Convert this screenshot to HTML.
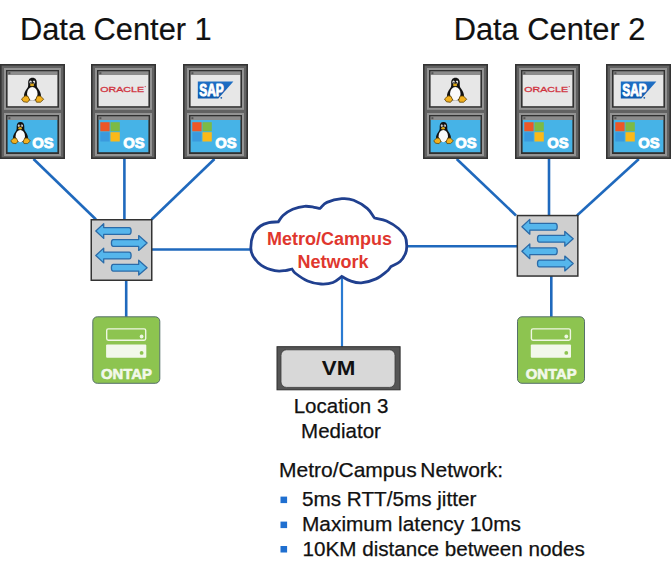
<!DOCTYPE html>
<html><head><meta charset="utf-8">
<style>
html,body{margin:0;padding:0;background:#fff;width:671px;height:573px;overflow:hidden}
svg{position:absolute;left:0;top:0;display:block}
text{font-family:"Liberation Sans",sans-serif}
</style></head><body>
<svg width="671" height="573" viewBox="0 0 671 573">
<defs>
  <linearGradient id="sapg" x1="0" y1="0" x2="0" y2="1"><stop offset="0" stop-color="#1f70c6"/><stop offset="1" stop-color="#0f5bae"/></linearGradient>
  <g id="box">
    <rect x="0" y="0" width="65" height="95" fill="#333"/>
    <rect x="1.6" y="1.6" width="61.8" height="91.8" fill="#626262"/>
    <rect x="4" y="4" width="57" height="41.8" fill="#939393"/>
    <rect x="6" y="6" width="53" height="37.7" fill="#303030"/>
    <rect x="7.4" y="7.3" width="50.2" height="3.7" fill="#8c8c8c"/>
    <rect x="8.4" y="8.2" width="2" height="2" fill="#555"/>
    <rect x="7.6" y="11" width="49.8" height="31.2" fill="#e7e7e7"/>
    <rect x="4" y="49" width="57" height="43" fill="#939393"/>
    <rect x="6" y="51" width="53" height="39" fill="#303030"/>
    <rect x="7.4" y="52.3" width="50.2" height="3.7" fill="#8c8c8c"/>
    <rect x="8.4" y="53.2" width="2" height="2" fill="#555"/>
    <rect x="7.6" y="56" width="49.8" height="32.2" fill="#46b3e7"/>
  </g>
  <g id="tux">
    <path d="M11.5 0.3 C8.5 0.3 7.2 2.5 7.2 5.5 C7.2 8 7.5 9 6 11 C4 13.5 2.8 16 3 19.5 L5 22.8 L18 22.8 L20 19.5 C20.2 16 19 13.5 17 11 C15.5 9 15.8 8 15.8 5.5 C15.8 2.5 14.5 0.3 11.5 0.3 Z" fill="#111"/>
    <ellipse cx="11.3" cy="16.3" rx="5.3" ry="6.8" fill="#fafafa"/>
    <ellipse cx="9.6" cy="4.6" rx="1.2" ry="1.5" fill="#f0f0f0"/>
    <ellipse cx="13" cy="4.6" rx="1.2" ry="1.5" fill="#f0f0f0"/>
    <circle cx="9.9" cy="4.9" r="0.6" fill="#111"/>
    <circle cx="12.7" cy="4.9" r="0.6" fill="#111"/>
    <ellipse cx="11.1" cy="7.4" rx="2.1" ry="1.4" fill="#d9a418"/>
    <path d="M0.5 21.5 L4 18.3 L7 18.8 L8.6 22.3 L6.5 24.8 L2.5 24.3 Z" fill="#f2b01e" stroke="#5a3e00" stroke-width="0.8"/>
    <path d="M14.6 22.5 L16.2 18.6 L19.4 18.4 L22.7 21.8 L19.5 24.7 L15.5 24.7 Z" fill="#f2b01e" stroke="#5a3e00" stroke-width="0.8"/>
  </g>
  <g id="win">
    <rect x="0" y="0" width="9.3" height="9.1" fill="#ec5727"/>
    <rect x="10.2" y="0" width="9.3" height="9.1" fill="#7cba45"/>
    <rect x="0" y="10" width="9.3" height="9.3" fill="#3a9ade"/>
    <rect x="10.2" y="10" width="9.3" height="9.3" fill="#fbb919"/>
  </g>
  <g id="os"><text x="32.2" y="84.4" font-size="15.5" font-weight="bold" fill="#fff" stroke="#fff" stroke-width="0.9" stroke-linejoin="round" textLength="21.4" lengthAdjust="spacingAndGlyphs">OS</text></g>
  <g id="switch">
    <rect x="0.75" y="0.75" width="60.5" height="60.5" fill="#cfcfcf" stroke="#333" stroke-width="1.5"/>
    <g fill="#55b6ec" stroke="#2b6ba8" stroke-width="1.3" stroke-linejoin="round">
      <path d="M5.3 12 L13.2 4.6 L13.2 8.6 L38.7 8.6 Q40.6 8.6 40.6 12 Q40.6 15.4 38.7 15.4 L13.2 15.4 L13.2 19.4 Z"/>
      <path d="M56.6 24 L48.2 16.6 L48.2 20.6 L22.8 20.6 Q20.9 20.6 20.9 24 Q20.9 27.4 22.8 27.4 L48.2 27.4 L48.2 31.4 Z"/>
      <path d="M5.3 36.5 L13.2 29.1 L13.2 33.1 L38.7 33.1 Q40.6 33.1 40.6 36.5 Q40.6 39.9 38.7 39.9 L13.2 39.9 L13.2 43.9 Z"/>
      <path d="M56.6 48.7 L48.2 41.3 L48.2 45.3 L22.8 45.3 Q20.9 45.3 20.9 48.7 Q20.9 52.1 22.8 52.1 L48.2 52.1 L48.2 56.1 Z"/>
    </g>
  </g>
  <g id="ontap">
    <rect x="0.5" y="0.5" width="67" height="66.5" rx="4.5" fill="#8dc450" stroke="#56706a" stroke-width="1"/>
    <rect x="14.4" y="12.6" width="39" height="11.3" rx="1.6" fill="none" stroke="#eef6e2" stroke-width="1.4"/>
    <circle cx="49.3" cy="20.2" r="1.9" fill="#eef6e2"/>
    <rect x="13.8" y="28.2" width="40.2" height="13.2" rx="1" fill="#f2f8ea"/>
    <circle cx="49.3" cy="36.6" r="1.9" fill="#8dc450"/>
    <text x="34.2" y="62.6" font-size="14.2" font-weight="bold" fill="#f2f8ea" stroke="#f2f8ea" stroke-width="0.6" stroke-linejoin="round" text-anchor="middle" textLength="51" lengthAdjust="spacingAndGlyphs">ONTAP</text>
  </g>
</defs>

<!-- titles -->
<text x="20" y="40.3" font-size="30.8" fill="#111" stroke="#111" stroke-width="0.2">Data Center 1</text>
<text x="453.7" y="40.3" font-size="30.8" fill="#111" stroke="#111" stroke-width="0.2">Data Center 2</text>

<!-- lines -->
<g stroke="#1f69bd" stroke-width="2.6" fill="none">
  <line x1="33.5" y1="159" x2="96" y2="219.5"/>
  <line x1="124.4" y1="159" x2="124.4" y2="219"/>
  <line x1="214.5" y1="159" x2="151.6" y2="219.5"/>
  <line x1="126.2" y1="280" x2="126.2" y2="317"/>
  <line x1="152" y1="249.5" x2="251" y2="249.5"/>
  <line x1="456.7" y1="159" x2="516" y2="215.5"/>
  <line x1="549" y1="159" x2="549" y2="215"/>
  <line x1="638.9" y1="159" x2="577" y2="215.5"/>
  <line x1="551.3" y1="276" x2="551.3" y2="317"/>
  <line x1="407" y1="246.2" x2="517" y2="246.2"/>
</g>
<line x1="342" y1="277" x2="342" y2="347" stroke="#2a7bd2" stroke-width="2.2"/>

<!-- boxes -->
<use href="#box" x="0" y="64"/>
<use href="#box" x="91" y="64"/>
<use href="#box" x="183" y="64"/>
<use href="#box" x="423" y="64"/>
<use href="#box" x="515" y="64"/>
<use href="#box" x="606" y="64"/>

<!-- box contents -->
<use href="#tux" x="21" y="77.5"/>
<g transform="translate(10.3 121.7) scale(0.885)"><use href="#tux"/></g>
<use href="#os" x="0" y="64"/>
<use href="#tux" x="444" y="77.5"/>
<g transform="translate(433.3 121.7) scale(0.885)"><use href="#tux"/></g>
<use href="#os" x="423" y="64"/>

<!-- oracle -->
<text x="100.3" y="91.9" font-size="8" font-weight="normal" fill="#d0303c" stroke="#d0303c" stroke-width="0.3" textLength="43.8" lengthAdjust="spacingAndGlyphs">ORACLE</text>
<circle cx="145.2" cy="86.6" r="0.6" fill="#d0303c"/>
<use href="#win" x="100.3" y="122.2"/>
<use href="#os" x="91" y="64"/>
<text x="524.3" y="91.9" font-size="8" font-weight="normal" fill="#d0303c" stroke="#d0303c" stroke-width="0.3" textLength="43.8" lengthAdjust="spacingAndGlyphs">ORACLE</text>
<circle cx="569.2" cy="86.6" r="0.6" fill="#d0303c"/>
<use href="#win" x="524.3" y="122.2"/>
<use href="#os" x="515" y="64"/>

<!-- sap -->
<g id="sap">
  <polygon points="197.8,81.4 233.4,81.4 218.3,98.4 197.8,98.4" fill="url(#sapg)"/>
  <text x="199.3" y="95.6" font-size="15.6" font-weight="bold" fill="#fff" stroke="#fff" stroke-width="0.9" stroke-linejoin="round" textLength="24.5" lengthAdjust="spacingAndGlyphs">SAP</text>
  <circle cx="221.3" cy="97.8" r="0.9" fill="#1a5fae"/>
</g>
<use href="#win" x="192.3" y="122.2"/>
<use href="#os" x="183" y="64"/>
<use href="#sap" x="423" y="0"/>
<use href="#win" x="615.3" y="122.2"/>
<use href="#os" x="606" y="64"/>

<!-- switches -->
<use href="#switch" x="90.5" y="219"/>
<use href="#switch" x="516.6" y="214.8"/>

<!-- ontap -->
<use href="#ontap" x="92.3" y="316.3"/>
<use href="#ontap" x="517" y="316.3"/>

<!-- cloud -->
<path d="M278.4 221.8 C279.9 219.7 280.6 217.6 283.0 215.5 C285.4 213.4 289.1 210.8 292.7 209.3 C296.3 207.8 301.0 206.6 304.6 206.3 C308.2 206.0 311.6 206.9 314.1 207.3 C316.6 207.7 317.9 208.1 319.8 208.5 C322.2 206.5 323.2 204.0 326.9 202.4 C330.6 200.8 337.3 199.1 341.8 198.7 C346.3 198.3 349.5 198.6 353.7 200.2 C357.9 201.8 363.7 205.4 367.2 208.4 C370.7 211.4 372.1 214.8 374.6 218.0 C378.6 219.0 382.5 219.2 386.5 221.0 C390.5 222.8 395.4 225.9 398.5 228.5 C401.6 231.1 403.8 233.8 405.2 236.7 C406.6 239.6 406.6 242.9 406.7 245.7 C406.8 248.5 406.6 250.8 405.5 253.4 C404.4 256.0 402.6 259.3 400.1 261.5 C397.6 263.7 393.8 265.0 390.7 266.8 C389.4 268.4 389.1 269.5 386.7 271.5 C384.2 273.5 380.2 277.0 376.0 278.9 C371.8 280.8 365.4 282.6 361.2 282.9 C356.9 283.2 353.7 282.0 350.5 280.9 C347.3 279.8 344.7 278.0 341.8 276.5 C338.9 278.5 336.5 281.2 333.0 282.5 C329.5 283.8 325.2 284.2 321.0 284.0 C316.8 283.8 311.8 282.8 307.6 281.0 C303.4 279.2 298.3 275.5 295.7 273.5 C293.1 271.5 293.2 270.5 292.0 269.0 C289.7 269.5 288.1 270.3 285.2 270.6 C282.3 270.9 278.8 271.5 274.8 270.6 C270.8 269.7 265.0 267.7 261.4 265.3 C257.8 262.9 255.0 259.3 253.2 256.4 C251.4 253.5 250.8 251.7 250.8 248.0 C250.8 244.3 251.7 238.0 253.3 234.3 C254.9 230.6 257.9 227.9 260.5 226.0 C263.1 224.1 265.8 223.4 268.8 222.7 C271.8 222.0 275.2 222.1 278.4 221.8 Z" fill="#fff" stroke="#20408f" stroke-width="2.8"/>
<text x="329.6" y="245" font-size="18" font-weight="bold" fill="#e0372e" text-anchor="middle">Metro/Campus</text>
<text x="333" y="267.5" font-size="18" font-weight="bold" fill="#e0372e" text-anchor="middle">Network</text>

<!-- VM -->
<rect x="277" y="346.7" width="123.1" height="43.1" fill="#555" stroke="#2e2e2e" stroke-width="1"/>
<rect x="281" y="349.8" width="114" height="37.6" rx="5.5" fill="#d8d8d8" stroke="#3a3a3a" stroke-width="0.8"/>
<text x="338.5" y="374.8" font-size="21" font-weight="bold" fill="#111" text-anchor="middle" textLength="33.5" lengthAdjust="spacingAndGlyphs">VM</text>
<text x="341" y="413" font-size="20.5" fill="#111" stroke="#111" stroke-width="0.25" text-anchor="middle">Location 3</text>
<text x="341" y="437.5" font-size="20.5" fill="#111" stroke="#111" stroke-width="0.25" text-anchor="middle">Mediator</text>

<!-- notes -->
<text x="279" y="477" font-size="21" fill="#111" stroke="#111" stroke-width="0.25" word-spacing="-2.2">Metro/Campus Network:</text>
<g fill="#1f6fd0">
  <rect x="280.5" y="496.6" width="6.6" height="6.5"/>
  <rect x="280.5" y="521.6" width="6.6" height="6.5"/>
  <rect x="280.5" y="546" width="6.6" height="6.5"/>
</g>
<text x="302" y="506" font-size="20.7" fill="#111" stroke="#111" stroke-width="0.25">5ms RTT/5ms jitter</text>
<text x="302" y="530.5" font-size="20.85" fill="#111" stroke="#111" stroke-width="0.25">Maximum latency 10ms</text>
<text x="302.5" y="555.5" font-size="20.65" fill="#111" stroke="#111" stroke-width="0.25">10KM distance between nodes</text>
</svg>
</body></html>
